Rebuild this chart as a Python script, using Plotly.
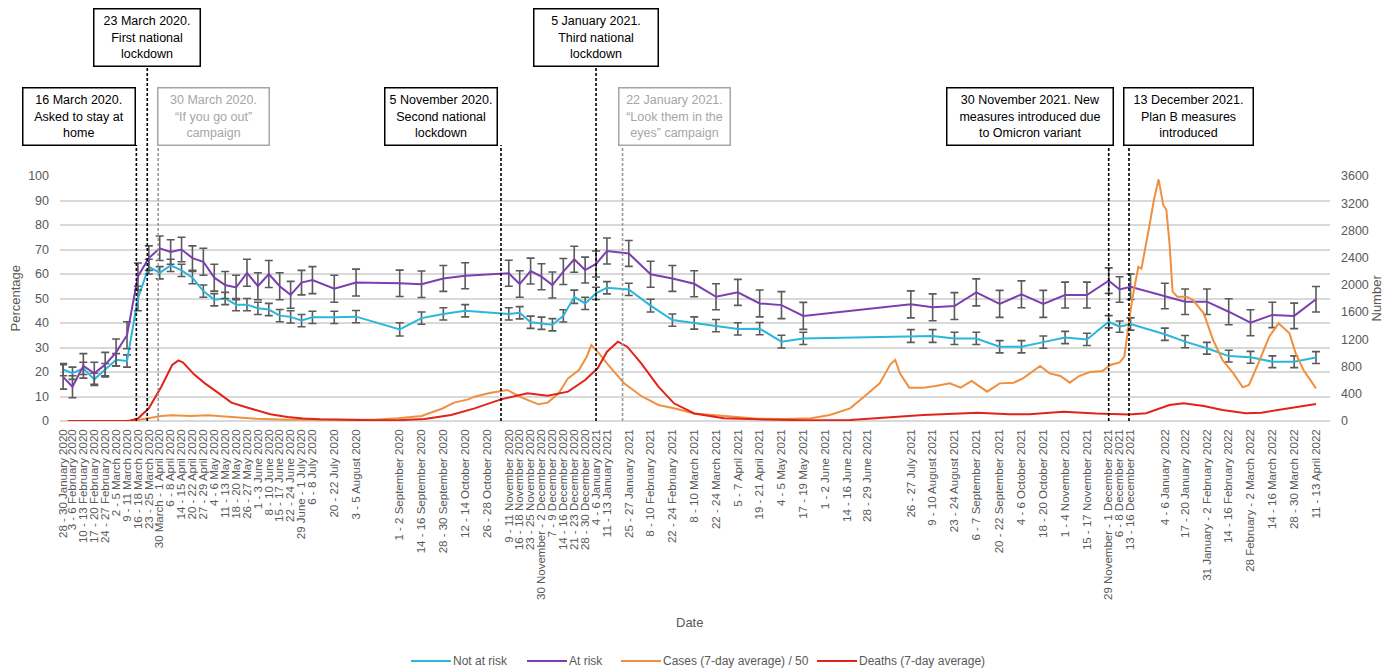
import plotly.graph_objects as go

# ---- Survey waves (midpoint date of fieldwork) and axis labels ----
wave_dates = [
    "2020-01-29", "2020-02-04", "2020-02-11", "2020-02-18", "2020-02-25",
    "2020-03-03", "2020-03-10", "2020-03-17", "2020-03-24", "2020-03-31",
    "2020-04-07", "2020-04-14", "2020-04-21", "2020-04-28", "2020-05-05",
    "2020-05-12", "2020-05-19", "2020-05-26", "2020-06-02", "2020-06-09",
    "2020-06-16", "2020-06-23", "2020-06-30", "2020-07-07", "2020-07-21",
    "2020-08-04", "2020-09-01", "2020-09-15", "2020-09-29", "2020-10-13",
    "2020-10-27", "2020-11-10", "2020-11-17", "2020-11-24", "2020-12-01",
    "2020-12-08", "2020-12-15", "2020-12-22", "2020-12-29", "2021-01-05",
    "2021-01-12", "2021-01-26", "2021-02-09", "2021-02-23", "2021-03-09",
    "2021-03-23", "2021-04-06", "2021-04-20", "2021-05-04", "2021-05-18",
    "2021-06-01", "2021-06-15", "2021-06-28", "2021-07-26", "2021-08-09",
    "2021-08-23", "2021-09-06", "2021-09-21", "2021-10-05", "2021-10-19",
    "2021-11-02", "2021-11-16", "2021-11-30", "2021-12-07", "2021-12-14",
    "2022-01-05", "2022-01-18", "2022-02-01", "2022-02-15", "2022-03-01",
    "2022-03-15", "2022-03-29", "2022-04-12",
]

wave_labels = [
    "28 - 30 January 2020", "3 - 6 February 2020", "10 - 13 February 2020",
    "17 - 20 February 2020", "24 - 27 February 2020", "2 - 5 March 2020",
    "9 - 11 March 2020", "16 - 18 March 2020", "23 - 25 March 2020",
    "30 March - 1 April 2020", "6 - 8 April 2020", "14 - 15 April 2020",
    "20 - 22 April 2020", "27 - 29 April 2020", "4 - 6 May 2020",
    "11 - 13 May 2020", "18 - 20 May 2020", "26 - 27 May 2020",
    "1 - 3 June 2020", "8 - 10 June 2020", "15 - 17 June 2020",
    "22 - 24 June 2020", "29 June - 1 July 2020", "6 - 8 July 2020",
    "20 - 22 July 2020", "3 - 5 August 2020", "1 - 2 September 2020",
    "14 - 16 September 2020", "28 - 30 September 2020", "12 - 14 October 2020",
    "26 - 28 October 2020", "9 - 11 November 2020", "16 - 18 November 2020",
    "23 - 25 November 2020", "30 November - 2 December 2020",
    "7 - 9 December 2020", "14 - 16 December 2020", "21 - 23 December 2020",
    "28 - 30 December 2020", "4 - 6 January 2021", "11 - 13 January 2021",
    "25 - 27 January 2021", "8 - 10 February 2021", "22 - 24 February 2021",
    "8 - 10 March 2021", "22 - 24 March 2021", "5 - 7 April 2021",
    "19 - 21 April 2021", "4 - 5 May 2021", "17 - 19 May 2021",
    "1 - 2 June 2021", "14 - 16 June 2021", "28 - 29 June 2021",
    "26 - 27 July 2021", "9 - 10 August 2021", "23 - 24 August 2021",
    "6 - 7 September 2021", "20 - 22 September 2021", "4 - 6 October 2021",
    "18 - 20 October 2021", "1 - 4 November 2021", "15 - 17 November 2021",
    "29 November - 1 December 2021", "6 - 8 December 2021",
    "13 - 16 December 2021", "4 - 6 January 2022", "17 - 20 January 2022",
    "31 January - 2 February 2022", "14 - 16 February 2022",
    "28 February - 2 March 2022", "14 - 16 March 2022", "28 - 30 March 2022",
    "11 - 13 April 2022",
]

# Percentage per wave (None = no fieldwork result for that wave)
not_at_risk = [
    21, 19.5, 21.5, 17, 21, 25, 24.5, 50, 63, 60.5,
    63.5, 61.5, 58.5, 53, 49.5, 50, 47.5, 47.5, 46, 45.5,
    43, 42.5, 41, 42.3, 42.3, 42.6, 37.4, 42, 43.7, 45,
    None, 43.7, 44.2, 40.3, 39.9, 39.3, 42.9, 50.7, 48, 52.1,
    54.4, 53.7, 47.1, 41.2, 40, 38.9, 37.6, 37.7, 32.4, 33.7,
    None, None, None, 34.7, 34.7, 33.7, 33.7, 30.3, 30.3, 32.2,
    34.1, 33.3, 40.5, 38.5, 39.6, 35.4, 32.4, 29.7, 26.5, 26,
    24.2, 24.2, 25.9,
]
not_at_risk_err = [
    2.5, 2.5, 2.5, 2.5, 2.5, 2.5, 2.5, 5, 3, 2.5,
    2.5, 2.5, 2.5, 2.5, 2.5, 2.5, 2.5, 2.5, 2.5, 2.5,
    2.5, 2.5, 2.5, 2.5, 2.5, 2.5, 2.7, 2.5, 2.5, 2.5,
    None, 2.5, 2.5, 2.5, 2.5, 2.5, 2.5, 2.7, 2.5, 2.5,
    2.5, 2.5, 2.6, 2.5, 2.5, 2.5, 2.5, 2.5, 2.6, 2.5,
    None, None, None, 2.6, 2.6, 2.5, 2.5, 2.5, 2.5, 2.5,
    2.5, 2.5, 2.5, 2.3, 2.5, 2.5, 2.5, 2.4, 2.4, 2.4,
    2.4, 2.4, 2.4,
]

at_risk = [
    18, 14, 22.5, 19.5, 23, 28, 35, 59, 66.5, 70.5,
    69, 70, 66.5, 65, 58.5, 55.5, 54.5, 60.5, 55, 60,
    55, 51.5, 56.5, 57.5, 54, 56.5, 56.2, 55.8, 58.2, 59.3,
    None, 60.3, 55.9, 61.2, 58.9, 55.5, 61, 66, 61.6, 64.1,
    69.4, 68.4, 59.9, 58.2, 56, 50.7, 52.5, 48, 47.3, 42.9,
    None, None, None, 47.6, 46.4, 46.9, 52.5, 47.8, 51.7, 47.8,
    51.4, 51.4, 57.3, 53.7, 54.8, 51, 48.7, 48.7, 44.6, 40.1,
    43.3, 42.9, 49.7,
]
at_risk_err = [
    5, 4.5, 5, 4.5, 5, 5.5, 5.5, 5.5, 5, 5,
    5, 5, 5, 5.5, 5.5, 5.5, 5, 5.5, 5.5, 5.5,
    5.5, 5.5, 5, 5.5, 5.5, 5.5, 5.4, 5.4, 5.3, 5.3,
    None, 5.3, 5.4, 5.3, 5.3, 5.3, 5.3, 5.3, 5.3, 5.3,
    5.3, 5.3, 5.3, 5.3, 5.3, 5.3, 5.3, 5.5, 5.5, 5.5,
    None, None, None, 5.5, 5.5, 5.5, 5.5, 5.5, 5.5, 5.5,
    5.3, 5.3, 5.2, 5.2, 5.2, 5.2, 5.2, 5.2, 5.3, 5.3,
    5.2, 5.2, 5.2,
]

# ---- Daily epidemiology (7-day averages), read at key dates ----
case_dates = [
    "2020-02-01", "2020-03-01", "2020-03-10", "2020-03-17", "2020-03-24",
    "2020-04-01", "2020-04-08", "2020-04-20", "2020-05-01", "2020-05-15",
    "2020-06-01", "2020-06-20", "2020-07-15", "2020-08-15", "2020-08-31",
    "2020-09-15", "2020-09-28", "2020-10-06", "2020-10-15", "2020-10-19",
    "2020-10-28", "2020-11-09", "2020-11-18", "2020-11-29", "2020-12-05",
    "2020-12-12", "2020-12-18", "2020-12-25", "2020-12-30", "2021-01-02",
    "2021-01-06", "2021-01-12", "2021-01-23", "2021-02-03", "2021-02-14",
    "2021-02-24", "2021-03-09", "2021-03-20", "2021-04-04", "2021-04-19",
    "2021-05-06", "2021-05-23", "2021-06-04", "2021-06-17", "2021-06-26",
    "2021-07-06", "2021-07-13", "2021-07-16", "2021-07-19", "2021-07-25",
    "2021-08-03", "2021-08-11", "2021-08-20", "2021-08-27", "2021-09-03",
    "2021-09-13", "2021-09-21", "2021-09-30", "2021-10-06", "2021-10-17",
    "2021-10-23", "2021-10-30", "2021-11-05", "2021-11-11", "2021-11-18",
    "2021-11-26", "2021-12-01", "2021-12-07", "2021-12-10", "2021-12-12",
    "2021-12-15", "2021-12-19", "2021-12-21", "2021-12-26", "2021-12-29",
    "2022-01-01", "2022-01-04", "2022-01-06", "2022-01-08", "2022-01-10",
    "2022-01-13", "2022-01-19", "2022-01-23", "2022-01-30", "2022-02-05",
    "2022-02-11", "2022-02-18", "2022-02-24", "2022-02-28", "2022-03-06",
    "2022-03-13", "2022-03-19", "2022-03-26", "2022-03-30", "2022-04-04",
    "2022-04-12",
]
cases_div50 = [
    0, 1, 5, 15, 39,
    73, 83, 75, 83, 59,
    34, 20, 15, 18, 40,
    73, 180, 270, 318, 357,
    407, 456, 348, 245, 270,
    407, 627, 749, 945, 1117,
    1019, 847, 553, 367, 235,
    186, 110, 88, 54, 34,
    29, 39, 88, 186, 357,
    553, 837, 896, 701, 490,
    490, 514, 553, 490, 588,
    431, 553, 563, 627, 808,
    700, 661, 563, 661, 720,
    734, 823, 862, 945, 1288,
    1778, 2267, 2240, 2855, 3247,
    3551, 3174, 3100, 2610, 1900,
    1827, 1827, 1778, 1582, 1190,
    896, 700, 494, 529, 847,
    1239, 1435, 1288, 994, 749,
    480,
]

death_dates = [
    "2020-02-01", "2020-03-05", "2020-03-12", "2020-03-17", "2020-03-24",
    "2020-04-01", "2020-04-08", "2020-04-12", "2020-04-15", "2020-04-22",
    "2020-04-29", "2020-05-08", "2020-05-16", "2020-05-25", "2020-06-02",
    "2020-06-10", "2020-06-21", "2020-07-01", "2020-07-12", "2020-07-22",
    "2020-08-15", "2020-08-31", "2020-09-17", "2020-10-04", "2020-10-19",
    "2020-11-05", "2020-11-22", "2020-12-05", "2020-12-18", "2020-12-29",
    "2021-01-06", "2021-01-12", "2021-01-19", "2021-01-25", "2021-02-03",
    "2021-02-14", "2021-02-24", "2021-03-09", "2021-03-28", "2021-04-19",
    "2021-05-19", "2021-06-17", "2021-07-13", "2021-08-03", "2021-09-07",
    "2021-09-27", "2021-10-10", "2021-10-24", "2021-11-01", "2021-11-22",
    "2021-12-13", "2021-12-24", "2022-01-08", "2022-01-17", "2022-01-30",
    "2022-02-11", "2022-02-26", "2022-03-08", "2022-03-26", "2022-04-12",
]
deaths_7day = [
    0, 0, 5, 36, 187,
    504, 823, 890, 860, 686,
    553, 406, 270, 205, 152,
    98, 58, 36, 25, 20,
    10, 12, 30, 88, 186,
    318, 407, 372, 431, 602,
    774, 1019, 1166, 1092, 847,
    504, 260, 110, 39, 24,
    12, 15, 50, 88, 120,
    100, 100, 125, 137, 110,
    95, 113, 235, 260, 220,
    162, 113, 122, 186, 250,
]

# ---- Policy events: date, text, tier (top/bottom row), box width, anchor, shift, colour ----
events = [
    ("2020-03-16", "16 March 2020.<br>Asked to stay at<br>home", "low", 115, "right", 0, "black"),
    ("2020-03-23", "23 March 2020.<br>First national<br>lockdown", "high", 109, "center", 0, "black"),
    ("2020-03-30", "30 March 2020.<br>\u201cIf you go out\u201d<br>campaign", "low", 114, "left", -1, "grey"),
    ("2020-11-05", "5 November 2020.<br>Second national<br>lockdown", "low", 115, "right", -3, "black"),
    ("2021-01-05", "5 January 2021.<br>Third national<br>lockdown", "high", 127, "center", 0, "black"),
    ("2021-01-22", "22 January 2021.<br>\u201cLook them in the<br>eyes\u201d campaign", "low", 114, "left", -5, "grey"),
    ("2021-11-30", "30 November 2021. New<br>measures introduced due<br>to Omicron variant", "low", 169, "right", 5, "black"),
    ("2021-12-13", "13 December 2021.<br>Plan B measures<br>introduced", "low", 132, "left", -6, "black"),
]

# ---- Colours / fonts ----
C_NOT = "#2AB6DE"
C_AT = "#7B3FB0"
C_CASES = "#F0903F"
C_DEATHS = "#E2231A"
C_ERR = "#5A5A5A"
C_TEXT = "#595959"
C_GRID = "#D9D9D9"
C_GREY_BOX = "#A6A6A6"
FONT = "Liberation Sans, Arial, sans-serif"

# Plot geometry (pixels)
W, H = 1389, 672
M_L, M_R, M_T, M_B = 60, 59, 176, 251
PLOT_H = H - M_T - M_B


def paper_y(py):
    """Convert a pixel row in the page to a paper y coordinate."""
    return (H - M_B - py) / PLOT_H


def paper_x(px):
    return (px - M_L) / (W - M_L - M_R)


series_style = [
    ("Not at risk", C_NOT),
    ("At risk", C_AT),
    ("Cases (7-day average) / 50", C_CASES),
    ("Deaths (7-day average)", C_DEATHS),
]

fig = go.Figure()

fig.add_trace(go.Scatter(
    x=wave_dates, y=not_at_risk, name="Not at risk", mode="lines",
    connectgaps=True, line=dict(color=C_NOT, width=2),
    error_y=dict(type="data", array=not_at_risk_err, color=C_ERR, thickness=1.6, width=4),
))
fig.add_trace(go.Scatter(
    x=wave_dates, y=at_risk, name="At risk", mode="lines",
    connectgaps=True, line=dict(color=C_AT, width=2),
    error_y=dict(type="data", array=at_risk_err, color=C_ERR, thickness=1.6, width=4),
))
fig.add_trace(go.Scatter(
    x=case_dates, y=cases_div50, name="Cases (7-day average) / 50", mode="lines",
    yaxis="y2", line=dict(color=C_CASES, width=2),
))
fig.add_trace(go.Scatter(
    x=death_dates, y=deaths_7day, name="Deaths (7-day average)", mode="lines",
    yaxis="y2", line=dict(color=C_DEATHS, width=2),
))

shapes = []
annotations = []
for date, text, tier, bw, anchor, shift, col in events:
    top_py = 8 if tier == "high" else 87
    box_h = 58
    line_col = "black" if col == "black" else C_GREY_BOX
    annotations.append(dict(
        x=date, xref="x", xanchor=anchor, xshift=shift,
        y=paper_y(top_py), yref="paper", yanchor="top",
        text=text, showarrow=False, align="center", valign="middle",
        width=bw - 10, height=box_h - 8, borderpad=3,
        bordercolor=line_col, borderwidth=1.5, bgcolor="white",
        font=dict(family=FONT, size=12.5, color=line_col),
    ))
    shapes.append(dict(
        type="line", xref="x", yref="paper", x0=date, x1=date,
        y0=0, y1=paper_y(top_py + box_h),
        line=dict(color="black" if col == "black" else "#9A9A9A", width=1.6, dash="3px,2px"),
        layer="above",
    ))

# Legend drawn as a row of line swatches + labels along the bottom
legend_left_px = [411, 527, 621, 817]
legend_py = 661
for (label, color), lx in zip(series_style, legend_left_px):
    shapes.append(dict(
        type="line", xref="paper", yref="paper",
        x0=paper_x(lx), x1=paper_x(lx + 40), y0=paper_y(legend_py), y1=paper_y(legend_py),
        line=dict(color=color, width=2),
    ))
    annotations.append(dict(
        text=label, x=paper_x(lx + 41), y=paper_y(legend_py), xref="paper", yref="paper",
        xanchor="left", yanchor="middle", showarrow=False, borderpad=0,
        font=dict(family=FONT, size=12, color=C_TEXT),
    ))

# Axis titles
annotations += [
    dict(text="Date", x=paper_x(689), y=paper_y(622), xref="paper", yref="paper",
         xanchor="center", yanchor="middle",
         showarrow=False, font=dict(family=FONT, size=13, color=C_TEXT)),
    dict(text="Percentage", x=paper_x(15), y=0.5, xref="paper", yref="paper",
         xanchor="center", yanchor="middle",
         textangle=-90, showarrow=False, font=dict(family=FONT, size=13, color=C_TEXT)),
    dict(text="Number", x=paper_x(1376), y=0.5, xref="paper", yref="paper",
         xanchor="center", yanchor="middle",
         textangle=-90, showarrow=False, font=dict(family=FONT, size=13, color=C_TEXT)),
]

fig.update_layout(
    width=W, height=H,
    margin=dict(l=M_L, r=M_R, t=M_T, b=M_B, autoexpand=False),
    paper_bgcolor="white", plot_bgcolor="white",
    font=dict(family=FONT, color=C_TEXT),
    showlegend=False,
    xaxis=dict(
        type="date", range=["2020-01-27", "2022-04-21"], automargin=False,
        tickmode="array", tickvals=wave_dates, ticktext=wave_labels,
        tickangle=-90, tickfont=dict(family=FONT, size=11.5, color=C_TEXT),
        ticklabelstandoff=5, showgrid=False, zeroline=False, showline=False,
    ),
    yaxis=dict(
        range=[0, 100], dtick=10, showgrid=True, gridcolor=C_GRID, gridwidth=1.5,
        zeroline=True, zerolinecolor=C_GRID, zerolinewidth=1.5, automargin=False,
        tickfont=dict(family=FONT, size=12.5, color=C_TEXT), ticklabelstandoff=10,
    ),
    yaxis2=dict(
        range=[0, 3600], dtick=400, overlaying="y", side="right", showgrid=False,
        zeroline=False, automargin=False,
        tickfont=dict(family=FONT, size=12.5, color=C_TEXT), ticklabelstandoff=10,
    ),
    shapes=shapes,
    annotations=annotations,
)

fig.write_html("out.html")
